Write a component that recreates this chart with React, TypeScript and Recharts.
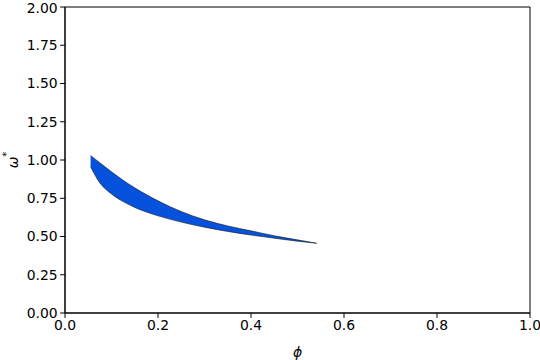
import { ComposedChart, Area, XAxis, YAxis, ReferenceArea } from 'recharts'

const phi = [0.055, 0.075, 0.1, 0.125, 0.15, 0.2, 0.25, 0.3, 0.35, 0.4, 0.45, 0.5, 0.541]
const omegaUpper = [1.03, 0.982, 0.923, 0.868, 0.818, 0.733, 0.663, 0.609, 0.569, 0.537, 0.505, 0.478, 0.456]
const omegaLower = [0.956, 0.85, 0.778, 0.728, 0.69, 0.635, 0.594, 0.561, 0.533, 0.509, 0.489, 0.469, 0.456]

const xTicks = [0, 0.2, 0.4, 0.6, 0.8, 1.0]
const yTicks = [0, 0.25, 0.5, 0.75, 1.0, 1.25, 1.5, 1.75, 2.0]

const data = phi.map((x, i) => ({ x, band: [omegaLower[i], omegaUpper[i]] }))

const FONT = '"DejaVu Sans", sans-serif'
const tickStyle = { fontFamily: FONT, fontSize: 13.9, fill: '#000' }

function YLabel() {
    return (
        <text x={13} y={160} transform="rotate(-90, 13, 160)" textAnchor="middle" dominantBaseline="central" fontFamily={FONT} fontSize={13.9} fill="#000">
            <tspan fontStyle="italic">ω</tspan>
            <tspan dy={-7} fontSize={10}>*</tspan>
        </text>
    )
}

export default function App() {
    return (
        <div style={{ position: 'absolute', left: 0, top: 0, width: 540, height: 360, background: '#fff' }}>
            <ComposedChart width={540} height={360} data={data} margin={{ top: 7, right: 10, bottom: 0, left: 0 }}>
                <XAxis
                    dataKey="x"
                    type="number"
                    domain={[0, 1]}
                    ticks={xTicks}
                    tickFormatter={(v: number) => v.toFixed(1)}
                    tick={tickStyle}
                    tickSize={4.9}
                    tickMargin={2.5}
                    height={47}
                    stroke="#000"
                    tickLine={{ stroke: '#000' }}
                    label={{ value: 'ϕ', position: 'insideBottom', offset: 3, fontFamily: FONT, fontSize: 13.9, fontStyle: 'italic', fill: '#000' }}
                />
                <YAxis
                    type="number"
                    domain={[0, 2]}
                    ticks={yTicks}
                    tickFormatter={(v: number) => v.toFixed(2)}
                    tick={tickStyle}
                    tickSize={4.9}
                    tickMargin={2.5}
                    width={65}
                    stroke="#000"
                    tickLine={{ stroke: '#000' }}
                    label={<YLabel />}
                />
                <ReferenceArea x1={0} x2={1} y1={0} y2={2} fill="none" stroke="#000" strokeWidth={1} />
                <Area
                    dataKey="band"
                    type="monotone"
                    fill="#0652dd"
                    fillOpacity={1}
                    stroke="#1a1a1a"
                    strokeWidth={0.6}
                    isAnimationActive={false}
                    dot={false}
                    activeDot={false}
                />
            </ComposedChart>
        </div>
    )
}
